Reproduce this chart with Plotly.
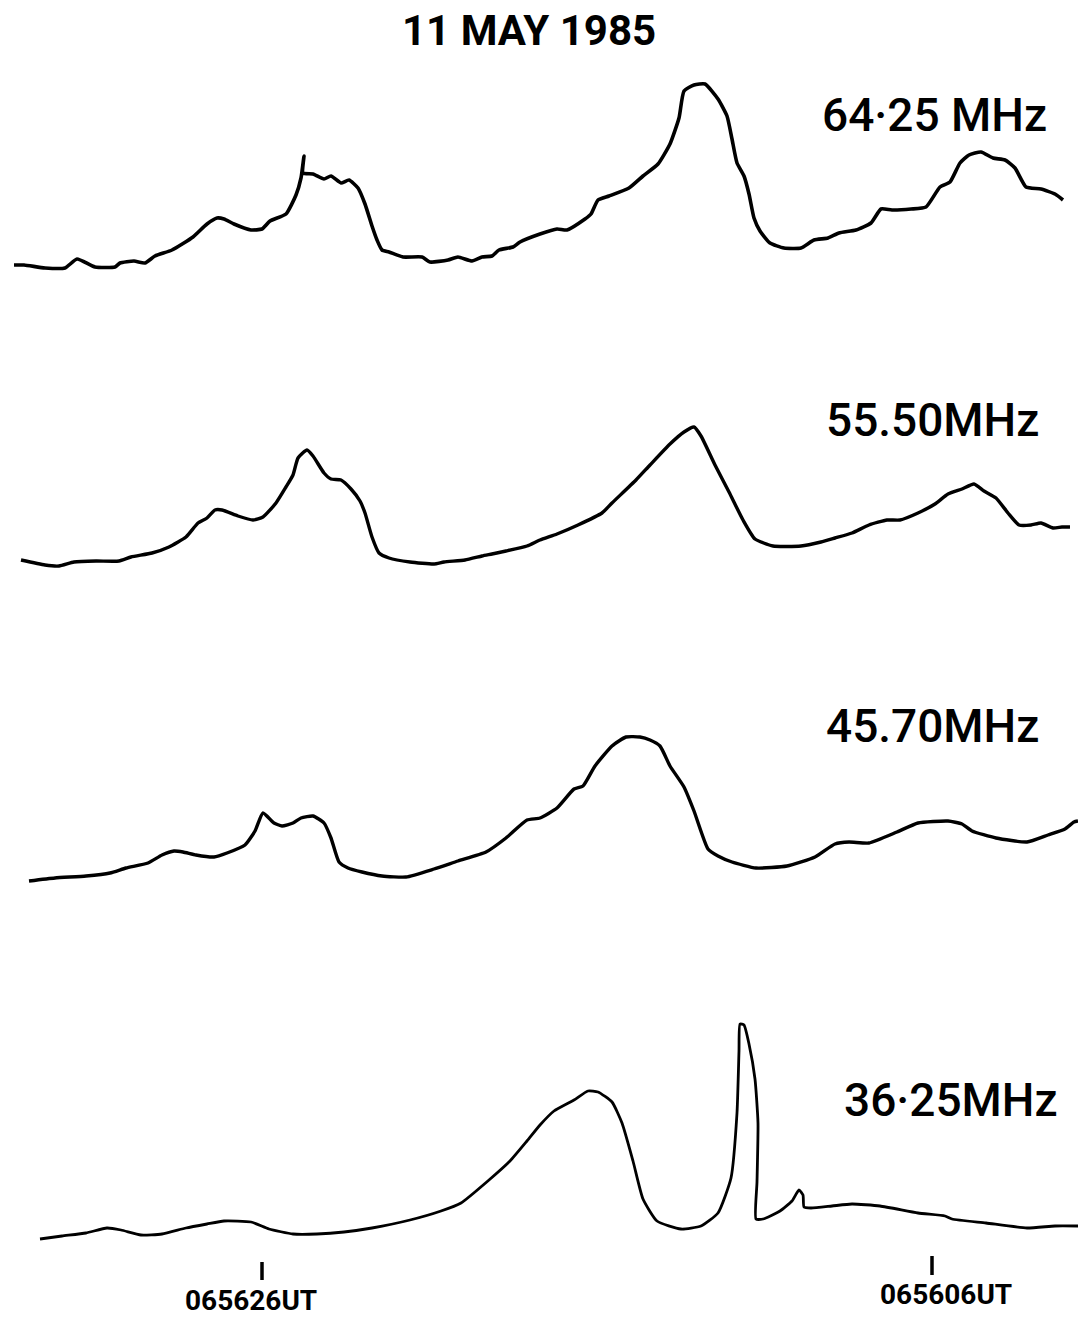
import plotly.graph_objects as go

# ---- data (x = time axis position, y = trace height, screen units) ----
title = "11 MAY 1985"

x64 = [14, 24, 45, 65, 77, 95, 115, 120, 134, 145, 155, 172, 193, 207, 217, 224, 234, 251, 262, 270,
       286, 296, 301, 304, 303, 313, 324, 331, 341, 349, 358, 365, 372, 377, 382, 389, 403, 422, 430,
       448, 458, 472, 482, 492, 499, 513, 520, 540, 557, 567, 585, 591, 598, 609, 629, 643, 658, 670,
       679, 684, 694, 705, 718, 727, 732, 737, 744, 749, 754, 760, 770, 784, 801, 814, 828, 839, 856,
       871, 881, 892, 911, 926, 940, 950, 960, 969, 981, 993, 1005, 1015, 1026, 1041, 1055, 1063]
y64 = [265, 265, 268, 268, 259, 267, 267, 263, 261, 263, 256, 250, 237, 224, 218, 219, 224, 230, 229, 221,
       214, 195, 178, 156, 173, 174, 179, 176, 183, 180, 188, 204, 226, 240, 250, 252, 257, 257, 262,
       260, 257, 261, 257, 256, 250, 247, 242, 234, 229, 230, 219, 214, 200, 196, 188, 176, 164, 144,
       118, 91, 85, 84, 99, 116, 139, 163, 176, 194, 218, 231, 243, 248, 248, 240, 238, 233, 230,
       223, 209, 210, 209, 207, 187, 182, 163, 155, 152, 158, 160, 168, 187, 189, 194, 200]

x55 = [21, 45, 59, 74, 96, 119, 131, 152, 169, 186, 198, 207, 215, 222, 238, 253, 263, 276, 286, 293,
       298, 307, 313, 324, 331, 341, 351, 360, 365, 372, 379, 389, 410, 434, 444, 465, 482, 492, 506,
       527, 540, 557, 578, 602, 612, 636, 650, 670, 684, 694, 701, 715, 729, 743, 755, 773, 801, 821,
       835, 852, 869, 887, 900, 918, 935, 948, 962, 974, 984, 996, 1008, 1019, 1031, 1041, 1053, 1062, 1070]
y55 = [560, 565, 566, 562, 561, 561, 557, 553, 547, 537, 523, 518, 510, 510, 516, 520, 517, 503, 487, 475,
       458, 450, 456, 473, 479, 480, 489, 501, 513, 537, 553, 558, 562, 564, 562, 560, 556, 554, 551,
       546, 540, 534, 525, 513, 503, 480, 465, 444, 432, 427, 436, 465, 492, 520, 539, 546, 546, 542,
       538, 533, 525, 520, 520, 513, 504, 494, 489, 484, 491, 498, 513, 525, 525, 523, 528, 527, 527]

x45 = [29, 55, 86, 110, 126, 148, 162, 174, 183, 196, 214, 227, 245, 255, 263, 274, 282, 293, 301, 313,
       324, 331, 339, 348, 362, 382, 406, 434, 458, 486, 506, 527, 540, 557, 574, 583, 595, 612, 626,
       640, 650, 660, 670, 684, 694, 708, 718, 732, 756, 787, 815, 835, 849, 869, 897, 918, 948, 962,
       972, 996, 1027, 1048, 1065, 1074, 1078]
y45 = [881, 878, 876, 873, 868, 863, 855, 851, 852, 855, 857, 853, 845, 831, 813, 823, 826, 823, 818, 816,
       823, 838, 862, 868, 872, 876, 877, 869, 861, 852, 838, 820, 818, 808, 789, 786, 766, 746, 737,
       737, 740, 746, 766, 787, 811, 849, 856, 862, 868, 866, 857, 844, 842, 843, 832, 823, 821, 824,
       831, 838, 842, 835, 829, 822, 821]

x36 = [40, 62, 86, 107, 121, 141, 162, 186, 207, 224, 251, 269, 293, 317, 344, 372, 410, 441, 461, 489,
       510, 527, 540, 554, 574, 588, 598, 612, 622, 633, 643, 657, 681, 701, 718, 731, 737, 739, 740,
       744, 749, 755, 758, 757, 756, 763, 780, 792, 799, 803, 804, 811, 832, 852, 880, 918, 945, 952,
       986, 1027, 1055, 1078]
y36 = [1239, 1236, 1233, 1228, 1230, 1235, 1234, 1228, 1224, 1221, 1222, 1229, 1234, 1234, 1232, 1228, 1220,
       1211, 1203, 1180, 1161, 1141, 1125, 1111, 1100, 1091, 1092, 1102, 1123, 1161, 1199, 1221, 1229,
       1226, 1213, 1178, 1113, 1051, 1024, 1025, 1044, 1079, 1123, 1182, 1219, 1219, 1211, 1201, 1190,
       1195, 1207, 1208, 1206, 1204, 1206, 1213, 1216, 1219, 1223, 1228, 1226, 1226]

freq_labels = ["64·25 MHz", "55.50MHz", "45.70MHz", "36·25MHz"]
label_x = [934, 932, 932, 951]
label_y = [115, 420, 726, 1100]

time_labels = ["065626UT", "065606UT"]
time_tick_x = [262, 932]
time_tick_top = [1262, 1256]
time_tick_bottom = [1280, 1275]
time_label_x = [251, 946]
time_label_y = [1300, 1294]

W, H = 1078, 1318

fig = go.Figure()
series = [(x64, y64, 3.6), (x55, y55, 3.4), (x45, y45, 3.4), (x36, y36, 2.8)]
for xs, ys, lw in series:
    fig.add_trace(go.Scatter(x=xs, y=ys, mode="lines",
                             line=dict(color="black", width=lw, shape="spline", smoothing=0.5),
                             hoverinfo="skip", showlegend=False))

# time tick marks
for tx, t0, t1 in zip(time_tick_x, time_tick_top, time_tick_bottom):
    fig.add_trace(go.Scatter(x=[tx, tx], y=[t0, t1], mode="lines",
                             line=dict(color="black", width=3.5),
                             hoverinfo="skip", showlegend=False))

annotations = [dict(text=title, x=529, y=30, xref="x", yref="y", showarrow=False,
                    font=dict(family="Roboto", size=42, color="black", weight="bold"),
                    xanchor="center", yanchor="middle")]
for t, lx, ly in zip(freq_labels, label_x, label_y):
    annotations.append(dict(text=t, x=lx, y=ly, xref="x", yref="y", showarrow=False,
                            font=dict(family="Roboto", size=46, color="black", weight=500),
                            xanchor="center", yanchor="middle"))
for t, lx, ly in zip(time_labels, time_label_x, time_label_y):
    annotations.append(dict(text=t, x=lx, y=ly, xref="x", yref="y", showarrow=False,
                            font=dict(family="Roboto", size=28, color="black", weight="bold"),
                            xanchor="center", yanchor="middle"))

fig.update_layout(
    width=W, height=H,
    margin=dict(l=0, r=0, t=0, b=0),
    paper_bgcolor="white", plot_bgcolor="white",
    xaxis=dict(range=[0, W], visible=False, fixedrange=True),
    yaxis=dict(range=[H, 0], visible=False, fixedrange=True),
    annotations=annotations,
)

fig.write_html("out.html", config={"displayModeBar": False},
               post_script="document.body.style.margin='0';document.body.style.overflow='hidden';")
